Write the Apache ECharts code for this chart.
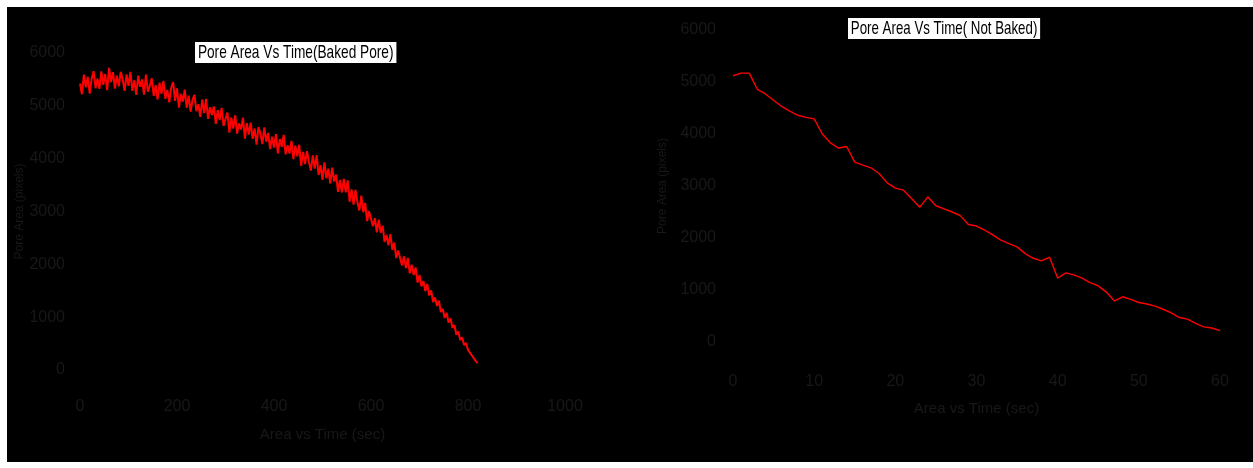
<!DOCTYPE html>
<html>
<head>
<meta charset="utf-8">
<script src="https://cdn.jsdelivr.net/npm/echarts@6/dist/echarts.min.js"></script>
<style>
  html, body { margin: 0; padding: 0; background: #ffffff; }
  #chart { position: absolute; left: 7px; top: 7px; width: 1246px; height: 455px; background: #000000; }
</style>
</head>
<body>
<div id="chart"></div>
<script>
// Baked pore: pore area sampled every 4 s, from 0 s to 820 s
const bakedStepSec = 4;
const bakedArea = [
  5420, 5220, 5590, 5350, 5550, 5230, 5508, 5656, 5334, 5512,
  5320, 5654, 5398, 5602, 5296, 5720, 5448, 5636, 5324, 5572,
  5370, 5644, 5498, 5282, 5596, 5380, 5642, 5284, 5486, 5208,
  5570, 5360, 5500, 5210, 5590, 5270, 5380, 5520, 5190, 5390,
  5120, 5438, 5226, 5474, 5132, 5300, 5066, 5342, 5448, 5094,
  5330, 4964, 5228, 5082, 5306, 4960, 5194, 4888, 5112, 5206,
  4900, 5030, 4790, 5120, 4860, 5130, 4752, 4974, 4826, 4988,
  4660, 4920, 4730, 4960, 4620, 4750, 4872, 4494, 4776, 4568,
  4820, 4474, 4668, 4552, 4776, 4380, 4674, 4458, 4682, 4376,
  4570, 4264, 4598, 4472, 4276, 4590, 4324, 4488, 4182, 4416,
  4210, 4464, 4098, 4372, 4226, 4450, 4082, 4254, 4096, 4338,
  3990, 4248, 4046, 4264, 3862, 4130, 3896, 4142, 3938, 3774,
  4060, 3814, 4068, 3692, 3876, 3600, 3930, 3630, 3810, 3530,
  3830, 3570, 3700, 3370, 3600, 3360, 3616, 3362, 3588, 3184,
  3420, 3130, 3410, 3180, 3020, 3300, 2986, 3162, 2818, 3004,
  3010, 2722, 2874, 2606, 2848, 2600, 2732, 2424, 2556, 2358,
  2570, 2276, 2412, 2118, 2264, 2270, 1980, 2150, 1930, 2120,
  1830, 1994, 1798, 1942, 1656, 1800, 1582, 1684, 1496, 1628,
  1410, 1508, 1286, 1374, 1212, 1310, 1098, 1156, 984, 1082,
  900, 974, 798, 852, 666, 730, 568, 616, 474, 512,
  380, 402, 274, 276, 168, 130
];

// Not baked: pore area sampled every second, from 0 s to 60 s
const notBakedStepSec = 1;
const notBakedArea = [
  5120, 5170, 5170, 4860, 4770, 4650, 4530, 4440, 4360, 4320,
  4290, 4000, 3830, 3730, 3760, 3460, 3400, 3350, 3240, 3060,
  2960, 2920, 2760, 2590, 2790, 2620, 2560, 2500, 2430, 2260,
  2230, 2150, 2060, 1960, 1890, 1830, 1700, 1610, 1560, 1630,
  1230, 1330, 1290, 1230, 1140, 1080, 960, 790, 870, 820,
  760, 730, 690, 630, 560, 470, 440, 360, 290, 270,
  220
];

// Axis ranges and ticks
const bakedTimeTicks = { min: 0, max: 1000, interval: 200 };
const notBakedTimeTicks = { min: 0, max: 60, interval: 10 };
const areaTicks = { min: 0, max: 6000, interval: 1000 };

const titles = ['Pore Area Vs Time(Baked Pore)', 'Pore Area Vs Time( Not Baked)'];
const xNames = ['Area vs Time (sec)', 'Area vs Time (sec)'];
const yNames = ['Pore Area (pixels)', 'Pore Area (pixels)'];

const toPairs = (vals, step) => vals.map((v, i) => [i * step, v]);

const FONT = "'Liberation Sans', Arial, sans-serif";
const AXIS_TEXT = '#181818';
const LINE_RED = '#ff0000';

function axisBase(extra) {
  return Object.assign({
    type: 'value',
    axisLine: { show: false },
    axisTick: { show: false },
    splitLine: { show: false },
    nameLocation: 'middle',
    nameTextStyle: { color: AXIS_TEXT, fontSize: 15, fontFamily: FONT }
  }, extra);
}

function tickLabels(margin) {
  return { color: AXIS_TEXT, fontSize: 16, fontFamily: FONT, margin: margin, formatter: v => String(v) };
}

// Boxed chart title, drawn in a condensed (horizontally scaled) face
function titleBox(text, x, y, scaleX) {
  return {
    type: 'text', x: x, y: y, scaleX: scaleX, scaleY: 1, z: 10,
    style: {
      text: text, fill: '#000000', fontSize: 19, fontFamily: FONT,
      backgroundColor: '#ffffff', padding: [1, 4, 1, 4],
      align: 'left', verticalAlign: 'top'
    }
  };
}

const chart = echarts.init(document.getElementById('chart'), null, { renderer: 'canvas' });

chart.setOption({
  animation: false,
  backgroundColor: '#000000',
  textStyle: { fontFamily: FONT },
  graphic: [
    titleBox(titles[0], 188, 35, 0.72),
    titleBox(titles[1], 841, 11, 0.70)
  ],
  grid: [
    { left: 73, top: 46, width: 485, height: 317 },
    { left: 726, top: 23, width: 487, height: 312 }
  ],
  xAxis: [
    axisBase(Object.assign({ gridIndex: 0, name: xNames[0], nameGap: 57 }, bakedTimeTicks, {
      axisLabel: tickLabels(29)
    })),
    axisBase(Object.assign({ gridIndex: 1, name: xNames[1], nameGap: 59 }, notBakedTimeTicks, {
      axisLabel: tickLabels(32)
    }))
  ],
  yAxis: [
    axisBase(Object.assign({ gridIndex: 0, name: yNames[0], nameGap: 53,
      nameTextStyle: { color: AXIS_TEXT, fontSize: 12, fontFamily: FONT } }, areaTicks, {
      axisLabel: tickLabels(15)
    })),
    axisBase(Object.assign({ gridIndex: 1, name: yNames[1], nameGap: 64,
      nameTextStyle: { color: AXIS_TEXT, fontSize: 12, fontFamily: FONT } }, areaTicks, {
      axisLabel: tickLabels(17)
    }))
  ],
  series: [
    {
      type: 'line', xAxisIndex: 0, yAxisIndex: 0,
      data: toPairs(bakedArea, bakedStepSec),
      showSymbol: false, symbol: 'none',
      lineStyle: { color: LINE_RED, width: 2 }
    },
    {
      type: 'line', xAxisIndex: 1, yAxisIndex: 1,
      data: toPairs(notBakedArea, notBakedStepSec),
      showSymbol: false, symbol: 'none',
      lineStyle: { color: LINE_RED, width: 1.4 }
    }
  ]
});
</script>
</body>
</html>
